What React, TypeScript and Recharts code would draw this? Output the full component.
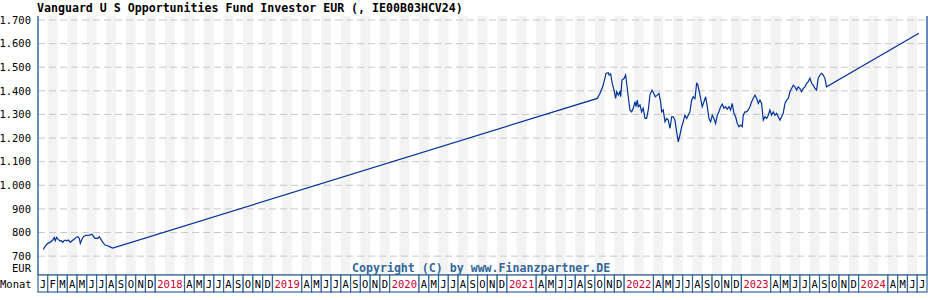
import React from 'react';
import { ComposedChart, Line, XAxis, YAxis, ReferenceArea, ReferenceLine } from 'recharts';

const title = 'Vanguard U S Opportunities Fund Investor EUR (, IE00B03HCV24)';
const copyright = 'Copyright (C) by www.Finanzpartner.DE';
const monthLetters = ['J', 'F', 'M', 'A', 'M', 'J', 'J', 'A', 'S', 'O', 'N', 'D'];
const startYear = 2017;
const monthCount = 91; // Jan 2017 .. Jul 2024
const yTicks = [700, 800, 900, 1000, 1100, 1200, 1300, 1400, 1500, 1600, 1700];

// month offset since Jan 2017, value in EUR
const months2017 = [
  0.54, 0.75, 0.99, 1.23, 1.5, 1.67, 1.77, 1.91, 2.08, 2.25, 2.38, 2.53, 2.66, 2.79, 2.94, 3.1, 3.31, 3.48,
  3.72, 3.89, 4.09, 4.23, 4.33, 4.47, 4.64, 4.91, 5.25, 5.53, 5.66, 5.83, 6.11, 6.27, 6.45, 6.62, 6.86, 7.13,
  7.37, 7.65,
];
const values2017 = [
  728, 742, 754, 758, 768, 779, 765, 779, 771, 764, 765, 758, 765, 768, 765, 768, 758, 765,
  772, 779, 782, 775, 754, 768, 782, 788, 789, 793, 785, 775, 775, 782, 771, 759, 747, 744,
  739, 734,
];
const months2021 = [
  57.25, 57.52, 57.8, 58.03, 58.14, 58.37, 58.47, 58.62, 58.78, 58.96, 59.13, 59.23, 59.4, 59.57, 59.64, 59.78,
  60.01, 60.15, 60.26, 60.42, 60.59, 60.77, 60.93, 61.11, 61.21, 61.34, 61.44, 61.62, 61.79, 61.95, 62.13, 62.3,
  62.47, 62.64, 62.85, 63.05, 63.18, 63.39, 63.56, 63.73, 63.84, 64.0, 64.18, 64.35, 64.51, 64.69, 64.86, 65.02,
  65.2, 65.37, 65.54, 65.71, 65.89, 66.05, 66.22, 66.4, 66.56, 66.73, 66.91, 67.07, 67.25, 67.42, 67.52, 67.66,
  67.83, 67.99, 68.17, 68.34, 68.51, 68.68, 68.85, 69.02, 69.19, 69.36, 69.53, 69.7, 69.88, 70.04, 70.21, 70.39,
  70.55, 70.73, 70.9, 71.06, 71.24, 71.41, 71.58, 71.75, 71.92, 72.09, 72.19, 72.36, 72.54, 72.7, 72.88, 73.05,
  73.21, 73.39, 73.56, 73.73, 73.9, 74.07, 74.24, 74.41, 74.59, 74.75, 74.92, 75.1, 75.26, 75.44, 75.61, 75.77,
  75.95, 76.12, 76.28, 76.46, 76.63, 76.8, 76.97, 77.14, 77.31, 77.48, 77.65, 77.82, 77.99, 78.16, 78.33, 78.51,
  78.68, 78.84, 79.02, 79.19, 79.35, 79.53, 79.7, 79.86, 80.04, 80.21, 80.38, 80.55, 80.72,
];
const values2021 = [
  1368, 1389, 1417, 1453, 1474, 1477, 1467, 1471, 1432, 1403, 1368, 1396, 1382, 1396, 1375, 1446,
  1453, 1467, 1432, 1375, 1319, 1311, 1326, 1354, 1333, 1361, 1333, 1340, 1311, 1326, 1283, 1283,
  1319, 1382, 1403, 1389, 1375, 1382, 1389, 1354, 1311, 1319, 1269, 1283, 1276, 1241, 1290, 1290,
  1276, 1227, 1184, 1213, 1248, 1269, 1297, 1283, 1297, 1311, 1361, 1375, 1368, 1432, 1429, 1403,
  1368, 1333, 1354, 1375, 1333, 1283, 1269, 1297, 1283, 1262, 1297, 1311, 1333, 1344, 1326, 1333,
  1322, 1333, 1319, 1347, 1305, 1290, 1262, 1248, 1255, 1248, 1297, 1311, 1311, 1319, 1333, 1354,
  1368, 1382, 1368, 1347, 1361, 1347, 1276, 1290, 1283, 1297, 1319, 1297, 1311, 1297, 1305, 1290,
  1276, 1290, 1305, 1347, 1361, 1368, 1396, 1410, 1424, 1417, 1403, 1417, 1410, 1396, 1410, 1417,
  1432, 1439, 1453, 1432, 1424, 1410, 1403, 1453, 1467, 1474, 1467, 1453, 1417,
];
const monthsLatest = [90.17];
const valuesLatest = [1644];

const allMonths = [...months2017, ...months2021, ...monthsLatest];
const allValues = [...values2017, ...values2021, ...valuesLatest];
const data = allMonths.map((m, i) => ({ m, v: allValues[i] }));

const monthTicks = Array.from({ length: monthCount }, (_, i) => i);
const grayMonths = monthTicks.filter((i) => i % 2 === 1);

const AXIS_BLUE = '#336699';
const MONO = '"DejaVu Sans Mono", "Liberation Mono", monospace';
const MONTH_W = 889 / monthCount;

const fmtEur = (v: number) =>
  v >= 1000 ? `${Math.floor(v / 1000)}.${String(v % 1000).padStart(3, '0')}` : String(v);

const MonthTick = (props: any) => {
  const { x, y, payload } = props;
  const i = payload.value as number;
  const mo = i % 12;
  if (i >= 12 && (mo === 1 || mo === 2)) return <g />;
  const isYear = i >= 12 && mo === 0;
  const w = isYear ? MONTH_W * 3 : MONTH_W;
  const label = isYear ? String(startYear + i / 12) : monthLetters[mo];
  return (
    <g>
      <rect x={x} y={y} width={w} height={17} fill="#fff" stroke={AXIS_BLUE} strokeWidth={1.2} />
      <text
        x={x + w / 2}
        y={y + 12.5}
        textAnchor="middle"
        fontSize={10.5}
        fontFamily={MONO}
        fill={isYear ? '#cc0033' : '#000'}
      >
        {label}
      </text>
    </g>
  );
};

const App: React.FC = () => {
  return (
    <div style={{ position: 'absolute', left: 0, top: 0, width: 928, height: 300, background: '#fff' }}>
      <ComposedChart width={928} height={300} data={data} margin={{ top: 16, right: 1, bottom: 8, left: 0 }}>
        {grayMonths.map((i) => (
          <ReferenceArea key={`s-${i}`} x1={i} x2={i + 1} fill="#f3f3f3" fillOpacity={1} stroke="none" />
        ))}
        {yTicks.map((t) => (
          <ReferenceLine key={`g-${t}`} y={t} stroke="#c8c8c8" strokeDasharray="7 4" />
        ))}
        <ReferenceLine x={monthCount} stroke={AXIS_BLUE} strokeWidth={1.5} />
        <XAxis
          dataKey="m"
          type="number"
          domain={[0, monthCount]}
          ticks={monthTicks}
          interval={0}
          tick={<MonthTick />}
          tickLine={false}
          tickSize={0}
          tickMargin={0}
          height={17}
          axisLine={{ stroke: AXIS_BLUE }}
          allowDataOverflow
        />
        <YAxis
          type="number"
          domain={[620, 1717]}
          ticks={yTicks}
          interval={0}
          width={38}
          tickLine={false}
          tickSize={0}
          tickMargin={7}
          tickFormatter={fmtEur}
          tick={{ fill: '#000', fontSize: 10.5, fontFamily: MONO }}
          axisLine={{ stroke: AXIS_BLUE, strokeWidth: 1.5 }}
          allowDataOverflow
        />
        <Line
          type="linear"
          dataKey="v"
          stroke="#003399"
          strokeWidth={1.2}
          dot={false}
          activeDot={false}
          isAnimationActive={false}
        />
      </ComposedChart>
      <div
        style={{
          position: 'absolute', left: 37, top: 1, fontFamily: MONO, fontWeight: 'bold',
          fontSize: 11.6, lineHeight: '14px', color: '#000', whiteSpace: 'nowrap',
        }}
      >
        {title}
      </div>
      <div
        style={{
          position: 'absolute', right: 897, top: 261, fontFamily: MONO, fontSize: 10.5,
          lineHeight: '14px', color: '#000', textAlign: 'right',
        }}
      >
        EUR
      </div>
      <div
        style={{
          position: 'absolute', left: 0, top: 277, fontFamily: MONO, fontSize: 10.5,
          lineHeight: '14px', color: '#000',
        }}
      >
        Monat
      </div>
      <div
        style={{
          position: 'absolute', left: 352, top: 261, fontFamily: MONO, fontWeight: 'bold',
          fontSize: 11.6, lineHeight: '14px', color: AXIS_BLUE, whiteSpace: 'nowrap',
        }}
      >
        {copyright}
      </div>
    </div>
  );
};

export default App;
